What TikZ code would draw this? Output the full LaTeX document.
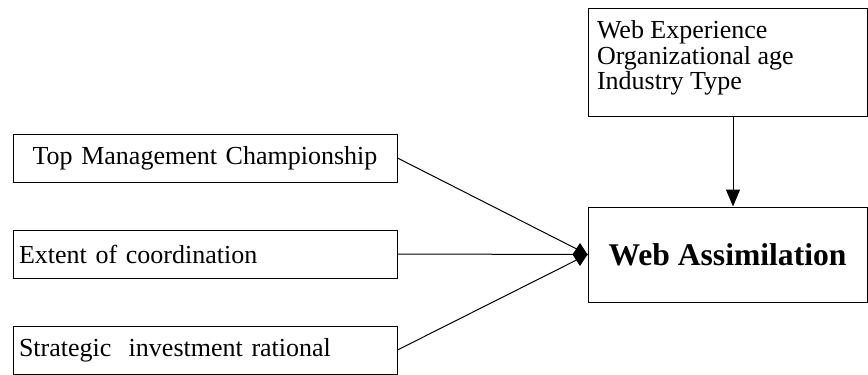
\documentclass[tikz,border=0pt]{standalone}
\usepackage{fontspec}
\setmainfont{Liberation Serif}
\usetikzlibrary{arrows.meta}
\begin{document}
\begin{tikzpicture}[x=0.5pt,y=-0.5pt,line width=0.5pt,
    factor/.style={draw,rectangle,minimum width=192pt,minimum height=24pt,
      text width=186pt,inner xsep=3pt,align=left,font=\fontsize{13}{15}\selectfont},
    outcome/.style={draw,rectangle,minimum width=139.5pt,minimum height=47.5pt,
      font=\fontsize{15.8}{18}\selectfont\bfseries}]
            \useasboundingbox (0,0) rectangle (868,375);

            % antecedents
            \node[factor,align=center] (tmc) at (205,158) {Top Management Championship};
            \node[factor] (coord) at (205,254) {Extent of coordination};
            \node[factor] (sir) at (205,350) {Strategic\ \ investment rational};

            % controls
            \node[draw,rectangle,minimum width=139.5pt,minimum height=54pt] (ctrl) at (727.5,62) {};
            \node[anchor=north west,align=left,inner sep=0pt,
              font=\fontsize{13}{12.75}\selectfont] (ctrltext)
              at ([xshift=4.5pt,yshift=-6.3pt]ctrl.north west)
              {Web Experience\\Organizational age\\Industry Type};

            % dependent variable
            \node[outcome] (wa) at (727.5,254.5) {Web Assimilation};

            \draw (tmc.east) -- (wa.west);
            \draw (sir.east) -- (wa.west);
            \draw[-{Diamond[length=7.5pt,width=11.5pt]}] (coord.east) -- (wa.west);
            \draw[-{Triangle[length=8.5pt,width=7pt]}] ([xshift=2.75pt]ctrl.south) -- ([xshift=2.75pt]wa.north);
        \end{tikzpicture}
\end{document}
